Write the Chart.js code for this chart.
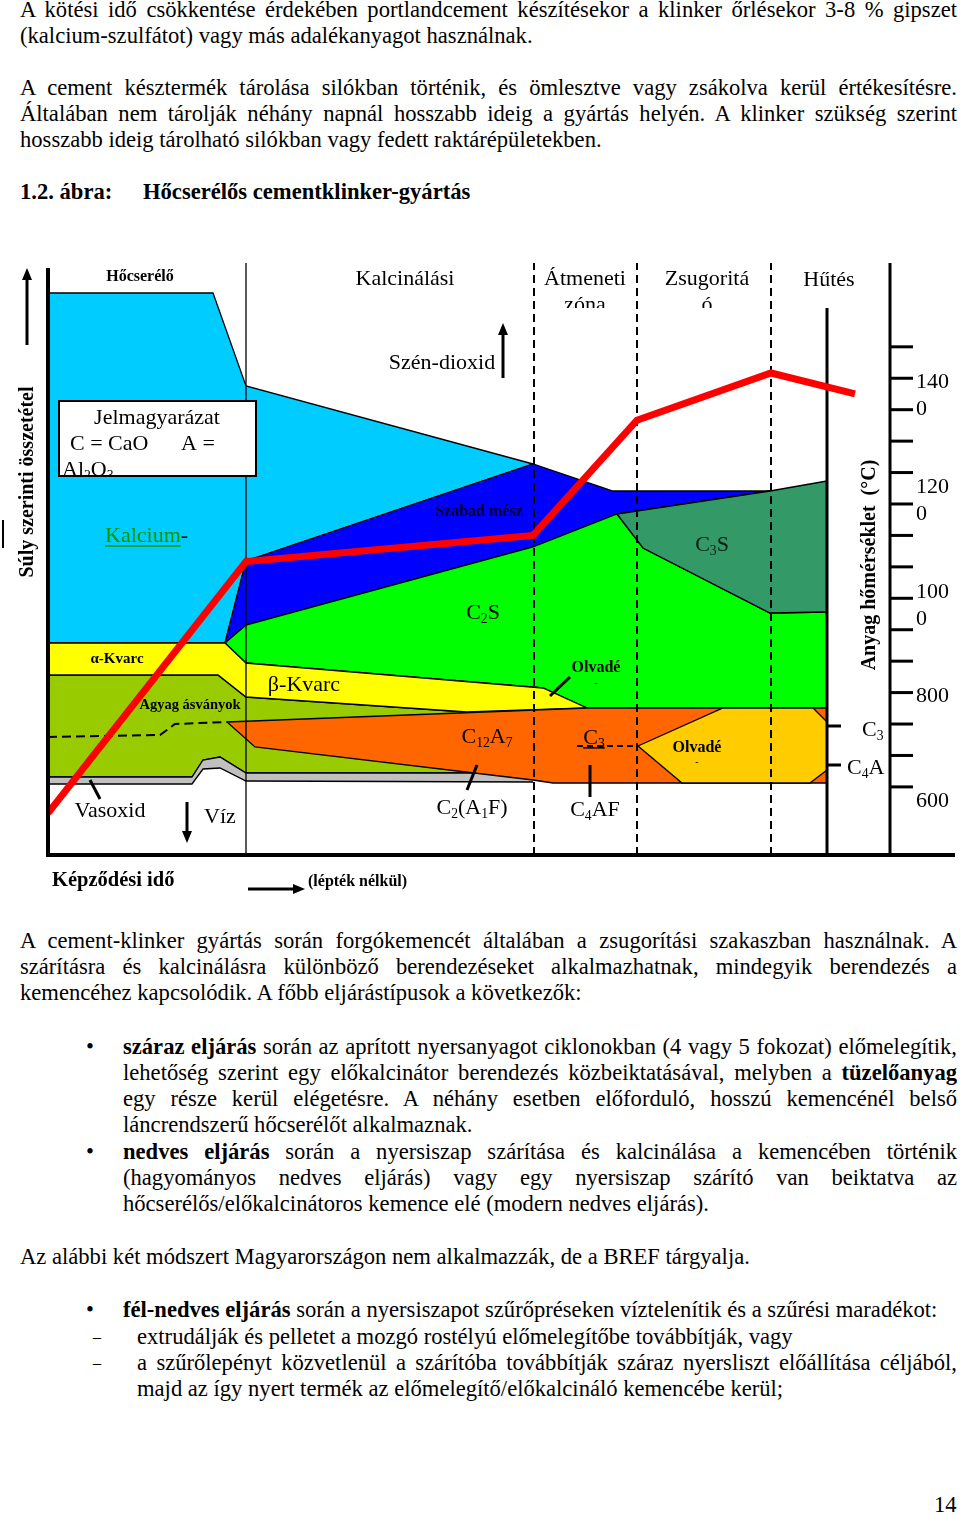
<!DOCTYPE html>
<html>
<head>
<meta charset="utf-8">
<script src="https://cdn.jsdelivr.net/npm/chart.js"></script>
<style>
body { margin: 0; width: 960px; height: 1515px; position: relative; background: #fff;
  font-family: "Liberation Serif", "Times New Roman", serif; font-size: 22.6px; color: #000; overflow: hidden; }
.l { position: absolute; height: 26px; line-height: 26px; white-space: nowrap; }
.j { text-align: justify; text-align-last: justify; }
#fig { position: absolute; left: 0; top: 255px; }
</style>
</head>
<body>
<div class="l j" style="left:20px;width:937px;top:-3px">A kötési idő csökkentése érdekében portlandcement készítésekor a klinker őrlésekor 3-8 % gipszet</div>
<div class="l" style="left:20px;top:23px">(kalcium-szulfátot) vagy más adalékanyagot használnak.</div>

<div class="l j" style="left:20px;width:937px;top:75px">A cement késztermék tárolása silókban történik, és ömlesztve vagy zsákolva kerül értékesítésre.</div>
<div class="l j" style="left:20px;width:937px;top:101px">Általában nem tárolják néhány napnál hosszabb ideig a gyártás helyén. A klinker szükség szerint</div>
<div class="l" style="left:20px;top:127px">hosszabb ideig tárolható silókban vagy fedett raktárépületekben.</div>

<div class="l" style="left:20px;top:179px"><b>1.2. ábra:</b></div>
<div class="l" style="left:143px;top:179px"><b>Hőcserélős cementklinker-gyártás</b></div>

<canvas id="fig" width="960" height="645"></canvas>

<div class="l j" style="left:20px;width:937px;top:928px">A cement-klinker gyártás során forgókemencét általában a zsugorítási szakaszban használnak. A</div>
<div class="l j" style="left:20px;width:937px;top:954px">szárításra és kalcinálásra különböző berendezéseket alkalmazhatnak, mindegyik berendezés a</div>
<div class="l" style="left:20px;top:980px">kemencéhez kapcsolódik. A főbb eljárástípusok a következők:</div>

<div class="l" style="left:86px;top:1034px">•</div>
<div class="l j" style="left:123px;width:834px;top:1034px"><b>száraz eljárás</b> során az aprított nyersanyagot ciklonokban (4 vagy 5 fokozat) előmelegítik,</div>
<div class="l j" style="left:123px;width:834px;top:1060px">lehetőség szerint egy előkalcinátor berendezés közbeiktatásával, melyben a <b>tüzelőanyag</b></div>
<div class="l j" style="left:123px;width:834px;top:1086px">egy része kerül elégetésre. A néhány esetben előforduló, hosszú kemencénél belső</div>
<div class="l" style="left:123px;top:1112px">láncrendszerű hőcserélőt alkalmaznak.</div>
<div class="l" style="left:86px;top:1139px">•</div>
<div class="l j" style="left:123px;width:834px;top:1139px"><b>nedves eljárás</b> során a nyersiszap szárítása és kalcinálása a kemencében történik</div>
<div class="l j" style="left:123px;width:834px;top:1165px">(hagyományos nedves eljárás) vagy egy nyersiszap szárító van beiktatva az</div>
<div class="l" style="left:123px;top:1191px">hőcserélős/előkalcinátoros kemence elé (modern nedves eljárás).</div>

<div class="l" style="left:20px;top:1244px">Az alábbi két módszert Magyarországon nem alkalmazzák, de a BREF tárgyalja.</div>

<div class="l" style="left:86px;top:1297px">•</div>
<div class="l" style="left:123px;top:1297px"><b>fél-nedves eljárás</b> során a nyersiszapot szűrőpréseken víztelenítik és a szűrési maradékot:</div>
<div class="l" style="left:93px;top:1324px;font-size:16px">–</div>
<div class="l" style="left:137px;top:1324px">extrudálják és pelletet a mozgó rostélyú előmelegítőbe továbbítják, vagy</div>
<div class="l" style="left:93px;top:1350px;font-size:16px">–</div>
<div class="l j" style="left:137px;width:820px;top:1350px">a szűrőlepényt közvetlenül a szárítóba továbbítják száraz nyersliszt előállítása céljából,</div>
<div class="l" style="left:137px;top:1376px">majd az így nyert termék az előmelegítő/előkalcináló kemencébe kerül;</div>

<div class="l" style="left:934px;top:1492px">14</div>

<script>
// x: formation time (no scale, 0..842), y: weight composition (0..592)
const cyanTop = [[0, 562], [165, 562], [198, 469], [485, 391]];
const cyanBottom = [[0, 212], [177, 212], [198, 294], [485, 391]];
const limeTop = [[177, 212], [198, 294], [485, 391], [565, 364], [722, 364]];
const limeBottom = [[177, 212], [198, 230], [485, 308], [569, 341], [722, 364]];
const c3sTop = [[569, 341], [722, 364], [779, 374]];
const c3sBottom = [[569, 341], [595, 307], [722, 242], [779, 243]];
const c2sTop = [[177, 212], [198, 230], [485, 308], [569, 341], [595, 307], [722, 242], [779, 243]];
const c2sBottom = [[177, 212], [198, 192], [495, 167], [539, 147], [779, 147]];
const quartzTop = [[0, 212], [177, 212], [198, 192], [495, 167], [539, 147]];
const quartzBottom = [[0, 180], [170, 180], [198, 158], [419, 143], [539, 147]];
const clayTop = [[0, 180], [170, 180], [198, 158], [419, 143], [485, 145]];
const clayBottom = [[0, 78], [144, 78], [155, 95], [172, 98], [198, 82], [485, 82]];
const ironBottom = [[0, 71], [144, 71], [155, 86], [172, 87], [198, 74], [485, 73]];
const c12a7Top = [[179, 133], [539, 147], [779, 147]];
const c12a7Bottom = [[179, 133], [207, 108], [485, 75], [505, 72], [779, 72]];
const meltTop = [[590, 109], [675, 147], [765, 147], [779, 133]];
const meltBottom = [[590, 109], [634, 72], [762, 72], [779, 85]];
const clayDash = [[0, 118], [112, 120], [127, 131], [179, 133]];
const c3Dash = [[529, 109], [590, 109]];

const zoneX = [198, 486, 589, 723];
const coolerX = 779;

const tempX = [0, 198, 485, 589, 723, 807];
const tempC = [570, 1050, 1100, 1320, 1410, 1370];
const tempTicks = [620, 680, 740, 800, 860, 920, 980, 1040, 1100, 1160, 1220, 1280, 1340, 1400, 1460];
const tempLabels = [1400, 1200, 1000, 800, 600];

const datasets = [];

function pts(list) {
  return list.map(p => ({ x: p[0], y: p[1] }));
}

function edge(list, extra) {
  datasets.push(Object.assign({
    data: pts(list), borderColor: '#000', borderWidth: 1.3, pointRadius: 0, fill: false
  }, extra || {}));
}

function band(top, bottom, color) {
  edge(top, { fill: datasets.length + 1, backgroundColor: color });
  edge(bottom);
}

band(clayTop, clayBottom, 'rgb(153,204,0)');
band(clayBottom, ironBottom, 'rgb(192,192,192)');
band(cyanTop, cyanBottom, 'rgb(0,204,255)');
band(limeTop, limeBottom, 'rgb(0,0,255)');
band(c2sTop, c2sBottom, 'rgb(0,255,0)');
band(c3sTop, c3sBottom, 'rgb(51,153,102)');
band(quartzTop, quartzBottom, 'rgb(255,255,0)');
band(c12a7Top, c12a7Bottom, 'rgb(255,102,0)');
band(meltTop, meltBottom, 'rgb(255,204,0)');
edge(clayDash, { borderWidth: 2, borderDash: [9, 5] });
edge(c3Dash, { borderWidth: 2, borderDash: [6, 4] });

zoneX.forEach((x, i) => {
  edge([[x, 0], [x, 592]], i === 0 ? { borderWidth: 1.3 } : { borderWidth: 2, borderDash: [8, 5] });
});
edge([[coolerX, 0], [coolerX, 547]], { borderWidth: 3 });

datasets.push({
  data: tempX.map((x, i) => ({ x: x, y: tempC[i] })),
  yAxisID: 'yT', borderColor: 'rgb(255,0,0)', borderWidth: 7, pointRadius: 0, fill: false
});

datasets.forEach((d, i) => { d.order = datasets.length - i; });

const serif = '"Liberation Serif", "Times New Roman", serif';

const figPlugin = {
  id: 'figText',
  afterDatasetsDraw(chart) {
    const ctx = chart.ctx;
    const X = v => chart.scales.x.getPixelForValue(v);
    const Y = v => chart.scales.y.getPixelForValue(v);
    const T = v => chart.scales.yT.getPixelForValue(v);

    function seg(x1, y1, x2, y2, w) {
      ctx.strokeStyle = '#000';
      ctx.lineWidth = w;
      ctx.beginPath();
      ctx.moveTo(X(x1), Y(y1));
      ctx.lineTo(X(x2), Y(y2));
      ctx.stroke();
    }

    function arrow(x1, y1, x2, y2) {
      const a = X(x1), b = Y(y1), c = X(x2), d = Y(y2);
      const ang = Math.atan2(d - b, c - a);
      ctx.strokeStyle = '#000';
      ctx.fillStyle = '#000';
      ctx.lineWidth = 3;
      ctx.beginPath();
      ctx.moveTo(a, b);
      ctx.lineTo(c - 8 * Math.cos(ang), d - 8 * Math.sin(ang));
      ctx.stroke();
      ctx.beginPath();
      ctx.moveTo(c, d);
      ctx.lineTo(c - 12 * Math.cos(ang) + 5 * Math.sin(ang), d - 12 * Math.sin(ang) - 5 * Math.cos(ang));
      ctx.lineTo(c - 12 * Math.cos(ang) - 5 * Math.sin(ang), d - 12 * Math.sin(ang) + 5 * Math.cos(ang));
      ctx.closePath();
      ctx.fill();
    }

    function font(size, bold) {
      return (bold ? 'bold ' : '') + size + 'px ' + serif;
    }

    function text(s, x, y, o) {
      o = o || {};
      ctx.font = font(o.size || 22, o.bold);
      ctx.fillStyle = o.color || '#000';
      ctx.textAlign = o.align || 'center';
      ctx.textBaseline = 'middle';
      ctx.fillText(s, X(x), Y(y));
    }

    // text with subscripts: "C_12A_7"
    function rich(s, x, y, o) {
      o = o || {};
      const size = o.size || 22;
      const parts = s.split(/(_\d+)/).filter(p => p);
      let w = 0;
      parts.forEach(p => {
        ctx.font = font(p[0] === '_' ? size * 0.62 : size, o.bold);
        w += ctx.measureText(p[0] === '_' ? p.slice(1) : p).width;
      });
      let cx = o.align === 'left' ? X(x) : X(x) - w / 2;
      const cy = Y(y);
      ctx.fillStyle = o.color || '#000';
      ctx.textAlign = 'left';
      ctx.textBaseline = 'middle';
      const start = cx;
      parts.forEach(p => {
        const sub = p[0] === '_';
        const t = sub ? p.slice(1) : p;
        ctx.font = font(sub ? size * 0.62 : size, o.bold);
        ctx.fillText(t, cx, cy + (sub ? size * 0.28 : 0));
        cx += ctx.measureText(t).width;
      });
      if (o.underline) {
        ctx.strokeStyle = o.color || '#000';
        ctx.lineWidth = 1.5;
        ctx.beginPath();
        ctx.moveTo(start, cy + size * 0.45);
        ctx.lineTo(cx, cy + size * 0.45);
        ctx.stroke();
      }
      return cx;
    }

    ctx.save();

    // frame axes
    seg(0, 587, 0, 0, 4);
    seg(-2, 0, 907, 0, 4);

    // temperature axis
    const ax = X(842);
    ctx.strokeStyle = '#000';
    ctx.lineWidth = 3;
    ctx.beginPath();
    ctx.moveTo(ax, Y(592));
    ctx.lineTo(ax, Y(0));
    ctx.stroke();
    tempTicks.forEach(t => {
      ctx.beginPath();
      ctx.moveTo(ax, T(t));
      ctx.lineTo(ax + 23, T(t));
      ctx.stroke();
    });
    ctx.font = font(22);
    ctx.fillStyle = '#000';
    ctx.textAlign = 'left';
    ctx.textBaseline = 'middle';
    tempLabels.forEach(t => {
      const s = String(t);
      ctx.fillText(s.slice(0, 3), ax + 26, T(t) + 4);
      if (s.length > 3) ctx.fillText(s.slice(3), ax + 26, T(t) + 31);
    });

    // zone titles
    text('Hőcserélő', 92, 578, { size: 16, bold: true });
    text('Kalcinálási', 357, 576);
    text('Átmeneti', 537, 576);
    text('Zsugoritá', 659, 576);
    text('Hűtés', 781, 575);
    ctx.save();
    ctx.beginPath();
    ctx.rect(0, 0, chart.width, Y(547));
    ctx.clip();
    text('zóna', 537, 550);
    text('ó', 659, 550);
    ctx.restore();

    text('Szén-dioxid', 394, 492);
    arrow(455, 477, 455, 532);

    // legend box
    const bx = X(11), by = Y(454), bw = X(208) - X(11), bh = Y(379) - Y(454);
    ctx.fillStyle = '#fff';
    ctx.fillRect(bx, by, bw, bh);
    ctx.save();
    ctx.beginPath();
    ctx.rect(bx, by, bw, bh);
    ctx.clip();
    text('Jelmagyarázat', 109, 437);
    text('C = CaO', 22, 411, { align: 'left' });
    text('A =', 133, 411, { align: 'left' });
    rich('Al_2O_3', 14, 385, { align: 'left' });
    ctx.restore();
    ctx.strokeStyle = '#000';
    ctx.lineWidth = 2;
    ctx.strokeRect(bx, by, bw, bh);

    const kEnd = rich('Kalcium', 57, 319, { align: 'left', color: 'rgb(0,153,0)', underline: true });
    ctx.font = font(22);
    ctx.fillStyle = '#000';
    ctx.fillText('-', kEnd, Y(319));

    // region labels
    text('Szabad mész', 431, 343, { size: 16, bold: true, color: 'rgb(0,0,40)' });
    rich('C_2S', 435, 242);
    rich('C_3S', 664, 310, { color: 'rgb(10,30,20)' });
    text('α-Kvarc', 69, 196, { size: 15, bold: true });
    text('Agyag ásványok', 142, 150, { size: 14.5, bold: true });
    text('β-Kvarc', 256, 170);
    rich('C_12A_7', 439, 118);
    text('Olvadé', 548, 187, { size: 16, bold: true });
    text('-', 548, 172, { size: 10 });
    rich('C_3', 546, 117, { underline: true });
    text('Olvadé', 649, 107, { size: 16, bold: true });
    text('-', 649, 93, { size: 10 });
    text('Vasoxid', 62, 44);
    text('Víz', 172, 38);
    arrow(139, 53, 139, 12);
    rich('C_2(A_1F)', 424, 47);
    rich('C_4AF', 547, 45);
    rich('C_3', 814, 125, { align: 'left' });
    rich('C_4A', 799, 87, { align: 'left' });

    // pointer lines
    seg(502, 159, 522, 178, 3);
    seg(542, 90, 542, 58, 3);
    seg(429, 90, 419, 65, 3);
    seg(42, 75, 52, 56, 3);
    seg(779, 129, 793, 129, 3);
    seg(779, 90, 793, 90, 3);

    // rotated axis titles
    ctx.fillStyle = '#000';
    ctx.textAlign = 'center';
    ctx.textBaseline = 'middle';
    ctx.font = font(20, true);
    ctx.save();
    ctx.translate(X(-20), Y(373));
    ctx.rotate(-Math.PI / 2);
    ctx.fillText('Súly szerinti összetétel', 0, 0);
    ctx.restore();
    ctx.save();
    ctx.translate(X(822), Y(290));
    ctx.rotate(-Math.PI / 2);
    ctx.fillText('Anyag hőmérséklet  (°C)', 0, 0);
    ctx.restore();
    arrow(-21, 510, -21, 587);
    seg(-45, 335, -45, 307, 2);

    // time axis caption
    text('Képződési idő', 4, -26, { size: 20.5, bold: true, align: 'left' });
    arrow(200, -34, 257, -34);
    text('(lépték nélkül)', 260, -27, { size: 16, bold: true, align: 'left' });

    ctx.restore();
  }
};

new Chart(document.getElementById('fig'), {
  type: 'line',
  data: { datasets: datasets },
  options: {
    responsive: false,
    animation: false,
    devicePixelRatio: 1,
    layout: { padding: { left: 48, right: 70, top: 8, bottom: 45 } },
    plugins: {
      legend: { display: false },
      tooltip: { enabled: false },
      filler: { propagate: false }
    },
    elements: { line: { tension: 0 }, point: { radius: 0 } },
    scales: {
      x: { type: 'linear', min: 0, max: 842, display: false },
      y: { type: 'linear', min: 0, max: 592, display: false },
      yT: { type: 'linear', position: 'right', min: 490, max: 1620, display: false }
    }
  },
  plugins: [figPlugin]
});
</script>
</body>
</html>
